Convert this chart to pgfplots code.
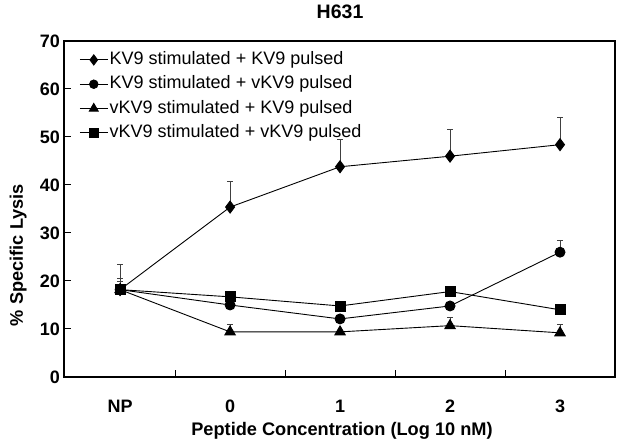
\documentclass[border=0pt]{standalone}
\usepackage{pgfplots}
\pgfplotsset{compat=1.18}
\usepackage{fontspec}
\setmainfont{Liberation Sans}
\begin{document}
\begin{tikzpicture}
\useasboundingbox (-64pt,-70pt) rectangle (560pt,377pt);
\begin{axis}[
  at={(0,0)}, anchor=south west,
  scale only axis, width=551pt, height=336pt,
  xmin=-0.51, xmax=4.5, ymin=0, ymax=70,
  xtick={0,1,2,3,4}, xticklabels={NP,0,1,2,3},
  major x tick style={draw=none},
  minor xtick={0.5,1.5,2.5,3.5},
  ytick={0,10,20,30,40,50,60,70},
  tick align=inside, xtick pos=bottom, ytick pos=left,
  major tick length=7pt, minor tick length=7pt,
  axis line style={line width=1.2pt},
  every tick/.style={line width=1pt, black},
  /pgf/number format/assume math mode=true,
  ticklabel style={font=\bfseries\fontsize{18}{18}\selectfont},
  yticklabel style={inner sep=2pt, xshift=-2pt},
  xticklabel style={anchor=base, yshift=-35pt},
  title={H631},
  title style={font=\bfseries\fontsize{19.5}{19.5}\selectfont, at={(axis description cs:0.501,1)}, yshift=23pt, anchor=center},
  xlabel={Peptide Concentration (Log 10 nM)},
  xlabel style={font=\bfseries\fontsize{18.2}{18.2}\selectfont, at={(axis description cs:0.5045,0)}, yshift=-54pt, anchor=center},
  ylabel={\% Specific Lysis},
  ylabel style={font=\bfseries\fontsize{18.2}{18.2}\selectfont, at={(axis description cs:-0.083,0.363)}, anchor=center},
  legend style={at={(axis description cs:0.022,0.98)}, anchor=north west, draw=none, fill=none,
    font=\fontsize{18}{18}\selectfont, row sep=4.3pt,
    nodes={inner sep=1.5pt, text height=13pt, text depth=4pt}},
  legend cell align=left,
  legend image code/.code={\draw[#1] (0pt,0pt) -- (28pt,0pt); \draw[#1, only marks, mark size=0.85*\pgfplotmarksize] plot coordinates {(14pt,0pt)};},
  every axis plot/.append style={black, line width=0.9pt},
  error bars/y dir=plus, error bars/y explicit,
  error bars/error mark=-,
  error bars/error bar style={line width=0.6pt, black!75},
  error bars/error mark options={rotate=90, line width=0.6pt, black!75, mark size=3pt},
]
\addplot[mark=diamond*, mark size=6pt] coordinates {
  (0,18.2) +- (0,5.3)
  (1,35.4) +- (0,5.4)
  (2,43.8) +- (0,5.8)
  (3,46.0) +- (0,5.7)
  (4,48.4) +- (0,5.6)
};
\addlegendentry{KV9 stimulated + KV9 pulsed}
\addplot[mark=*, mark size=5pt] coordinates {
  (0,18.2) +- (0,2.4)
  (1,15.0) +- (0,0)
  (2,12.1) +- (0,0)
  (3,14.8) +- (0,0)
  (4,26.0) +- (0,2.5)
};
\addlegendentry{KV9 stimulated + vKV9 pulsed}
\addplot[mark=triangle*, mark size=6pt] coordinates {
  (0,18.2) +- (0,0)
  (1,9.4) +- (0,1.6)
  (2,9.4) +- (0,0)
  (3,10.7) +- (0,1.8)
  (4,9.2) +- (0,1.7)
};
\addlegendentry{vKV9 stimulated + KV9 pulsed}
\addplot[mark=square*, mark size=5pt] coordinates {
  (0,18.2) +- (0,1.8)
  (1,16.7) +- (0,0)
  (2,14.8) +- (0,0)
  (3,17.8) +- (0,0)
  (4,14.0) +- (0,0)
};
\addlegendentry{vKV9 stimulated + vKV9 pulsed}
\end{axis}
\end{tikzpicture}
\end{document}
